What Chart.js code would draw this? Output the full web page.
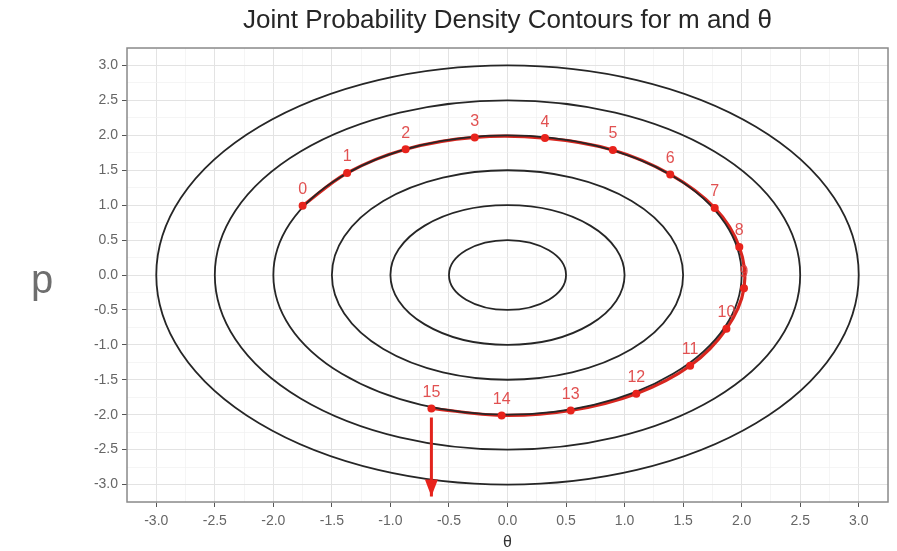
<!DOCTYPE html>
<html><head><meta charset="utf-8">
<script src="https://cdn.jsdelivr.net/npm/chart.js@4/dist/chart.umd.min.js"></script>
<style>html,body{margin:0;padding:0;background:#fff;}#wrap{width:897px;height:551px;}</style>
</head><body><div id="wrap"><canvas id="c" width="897" height="551"></canvas></div>
<script>
// ---- data ----
const contourRadii = [0.5, 1.0, 1.5, 2.0, 2.5, 3.0];
const stepLabels = ['0','1','2','3','4','5','6','7','8','9','10','11','12','13','14','15'];
const thetaValues = [-1.75, -1.37, -0.87, -0.28, 0.32, 0.90, 1.39, 1.77, 1.98, 2.02, 1.87, 1.56, 1.10, 0.54, -0.05, -0.65];
const pValues     = [ 0.99,  1.46,  1.80,  1.97, 1.96, 1.79, 1.44, 0.96, 0.40, -0.19, -0.77, -1.30, -1.70, -1.94, -2.01, -1.91];
const arrowTheta = [-0.65, -0.65];
const arrowP = [-2.04, -3.17];
const majorTicks = [-3.0, -2.5, -2.0, -1.5, -1.0, -0.5, 0.0, 0.5, 1.0, 1.5, 2.0, 2.5, 3.0];
const minorTicks = [-3.25, -2.75, -2.25, -1.75, -1.25, -0.75, -0.25, 0.25, 0.75, 1.25, 1.75, 2.25, 2.75, 3.25];
const titleText = 'Joint Probability Density Contours for m and θ';
const xTitle = 'θ';
const yTitle = 'p';

const gridValues = majorTicks.concat(minorTicks).sort((a, b) => a - b);
const isMajor = v => majorTicks.some(m => Math.abs(m - v) < 1e-9);
const FONT = "'Liberation Sans', Arial, sans-serif";

const overlay = {
  id: 'overlay',
  afterDatasetDraw(chart, args) {
    if (args.index !== 2) return;
    const {ctx, scales: {x, y}} = chart;
    const cx = x.getPixelForValue(0), cy = y.getPixelForValue(0);
    ctx.save();
    ctx.strokeStyle = '#262626';
    ctx.lineWidth = 1.8;
    contourRadii.forEach(r => {
      const rx = Math.abs(x.getPixelForValue(r) - cx);
      const ry = Math.abs(y.getPixelForValue(r) - cy);
      ctx.beginPath();
      ctx.ellipse(cx, cy, rx, ry, 0, 0, Math.PI * 2);
      ctx.stroke();
    });
    ctx.restore();
  },
  afterDatasetsDraw(chart) {
    const {ctx, chartArea: a, scales: {x, y}} = chart;
    ctx.save();
    // arrow head
    const ax = x.getPixelForValue(arrowTheta[1]);
    const ay = y.getPixelForValue(arrowP[1]);
    ctx.fillStyle = '#e8231c';
    ctx.beginPath();
    ctx.moveTo(ax, ay);
    ctx.lineTo(ax - 6.5, ay - 17);
    ctx.lineTo(ax + 6.5, ay - 17);
    ctx.closePath();
    ctx.fill();
    // step labels
    ctx.fillStyle = 'rgba(222,62,62,0.9)';
    ctx.font = '16px ' + FONT;
    ctx.textAlign = 'center';
    ctx.textBaseline = 'middle';
    stepLabels.forEach((t, i) => {
      ctx.fillText(t, x.getPixelForValue(thetaValues[i]), y.getPixelForValue(pValues[i]) - 16);
    });
    // panel border
    ctx.strokeStyle = '#8a8a8a';
    ctx.lineWidth = 1.5;
    ctx.strokeRect(a.left, a.top, a.right - a.left, a.bottom - a.top);
    ctx.restore();
  },
  afterDraw(chart) {
    const ctx = chart.ctx;
    ctx.save();
    ctx.fillStyle = '#6e6e6e';
    ctx.font = '40px ' + FONT;
    ctx.textAlign = 'center';
    ctx.textBaseline = 'alphabetic';
    ctx.fillText(yTitle, 42, 293);
    ctx.restore();
  }
};

const gridOpts = {
  color: c => (c.tick && isMajor(c.tick.value)) ? '#e3e3e3' : '#f1f1f1',
  lineWidth: c => (c.tick && isMajor(c.tick.value)) ? 1 : 0.7,
  tickColor: c => (c.tick && isMajor(c.tick.value)) ? '#555555' : 'rgba(0,0,0,0)',
  tickLength: 5,
  drawOnChartArea: true
};

new Chart(document.getElementById('c'), {
  type: 'scatter',
  data: {
    datasets: [
      {
        label: 'steps',
        data: thetaValues.map((v, i) => ({x: v, y: pValues[i]})),
        showLine: false,
        pointRadius: 4,
        pointBackgroundColor: '#e8231c',
        pointBorderWidth: 0
      },
      {
        label: 'arrow',
        data: arrowTheta.map((v, i) => ({x: v, y: arrowP[i]})),
        showLine: true,
        borderColor: '#e2231c',
        borderWidth: 3,
        pointRadius: 0
      },
      {
        label: 'path',
        data: thetaValues.map((v, i) => ({x: v, y: pValues[i]})),
        showLine: true,
        borderColor: '#d8261f',
        borderWidth: 3.2,
        tension: 0.35,
        pointRadius: 0
      }
    ]
  },
  options: {
    responsive: false,
    devicePixelRatio: 1,
    animation: false,
    layout: {padding: {left: 0, right: 9, top: 0, bottom: 0}},
    plugins: {
      legend: {display: false},
      tooltip: {enabled: false},
      title: {
        display: true,
        text: titleText,
        fullSize: false,
        color: '#262626',
        font: {size: 26, family: FONT, weight: 'normal', lineHeight: 1.2},
        padding: {top: 5.4, bottom: 11.4}
      }
    },
    scales: {
      x: {
        type: 'linear', min: -3.25, max: 3.25,
        afterBuildTicks: s => { s.ticks = gridValues.map(v => ({value: v})); },
        afterFit: s => { s.height = 49; },
        border: {display: false},
        grid: gridOpts,
        ticks: {
          autoSkip: false, maxRotation: 0, padding: 6,
          color: '#666', font: {size: 14, family: FONT},
          callback: v => isMajor(v) ? v.toFixed(1) : ''
        },
        title: {display: true, text: xTitle, color: '#333', font: {size: 16, family: FONT, lineHeight: 1}, padding: {top: 0, bottom: 0}}
      },
      y: {
        type: 'linear', min: -3.25, max: 3.25,
        afterBuildTicks: s => { s.ticks = gridValues.map(v => ({value: v})); },
        afterFit: s => { s.width = 127; },
        border: {display: false},
        grid: gridOpts,
        ticks: {
          autoSkip: false, padding: 4,
          color: '#666', font: {size: 14, family: FONT},
          callback: v => isMajor(v) ? v.toFixed(1) : ''
        }
      }
    }
  },
  plugins: [overlay]
});
</script>
</body></html>
